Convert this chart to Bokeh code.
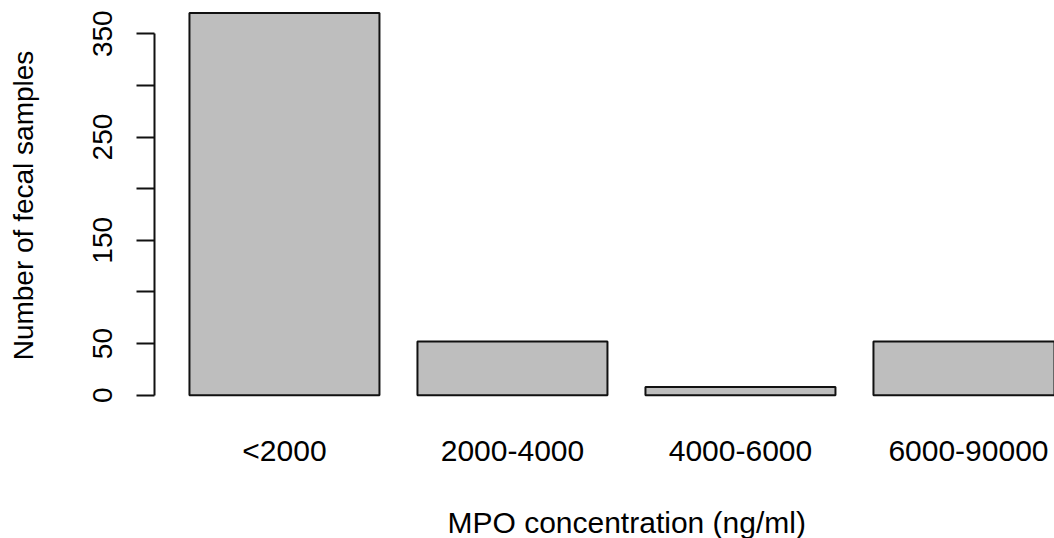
import math
from bokeh.plotting import figure
from bokeh.models import FixedTicker, Range1d, Title
from bokeh.embed import file_html
from bokeh.resources import INLINE

categories = ["<2000", "2000-4000", "4000-6000", "6000-90000"]
counts = [370, 52, 8, 52]
y_ticks = [0, 50, 100, 150, 200, 250, 300, 350]
y_tick_labels = ["0", "50", "", "150", "", "250", "", "350"]
x_title = "MPO concentration (ng/ml)"
y_title = "Number of fecal samples"

FONT = "Liberation Sans"
BAR_W, GAP = 1.0, 0.2
n = len(counts)
lefts = [GAP + i * (BAR_W + GAP) for i in range(n)]
centers = [round(l + BAR_W / 2, 6) for l in lefts]

# R-style limits (4% expansion)
x_min_r, x_max_r = lefts[0], lefts[-1] + BAR_W
x_pad = 0.04 * (x_max_r - x_min_r)
y_pad = 0.04 * max(counts)
x_lo, x_hi_r = x_min_r - x_pad, x_max_r + x_pad
y_lo = -y_pad

W, H = 1054, 538
LEFT, BOTTOM = 154, 125
frame_w, frame_h = W - LEFT, H - BOTTOM
px_per_x = 190.0
px_per_y = 1.0403
x_hi = x_lo + frame_w / px_per_x
y_hi = y_lo + frame_h / px_per_y

p = figure(width=W, height=H, output_backend="svg", toolbar_location=None,
           x_range=Range1d(x_lo, x_hi), y_range=Range1d(y_lo, y_hi),
           min_border_left=LEFT, min_border_right=0, min_border_top=0,
           min_border_bottom=BOTTOM)
p.outline_line_color = None
p.xgrid.visible = False
p.ygrid.visible = False
p.background_fill_color = "white"
p.border_fill_color = "white"

p.vbar(x=centers, top=counts, bottom=0, width=BAR_W,
       fill_color="#BEBEBE", line_color="#111111", line_width=2)

# y axis (R style)
ya = p.yaxis[0]
ya.ticker = FixedTicker(ticks=y_ticks)
ya.major_label_overrides = {t: s for t, s in zip(y_ticks, y_tick_labels)}
ya.bounds = (y_ticks[0], y_ticks[-1])
ya.axis_line_color = "#111111"
ya.axis_line_width = 2
ya.major_tick_line_color = "#111111"
ya.major_tick_line_width = 2
ya.major_tick_out = 18
ya.major_tick_in = 0
ya.minor_tick_line_color = None
ya.major_label_orientation = "vertical"
ya.major_label_standoff = 24
ya.major_label_text_font = FONT
ya.major_label_text_font_size = "28px"
ya.major_label_text_color = "black"
ya.axis_label = y_title
ya.axis_label_standoff = 52
ya.axis_label_text_font = FONT
ya.axis_label_text_font_size = "28px"
ya.axis_label_text_font_style = "normal"
ya.axis_label_text_color = "black"

# x axis: only category names
xa = p.xaxis[0]
xa.ticker = FixedTicker(ticks=centers)
xa.major_label_overrides = {c: s for c, s in zip(centers, categories)}
xa.axis_line_color = None
xa.major_tick_line_color = None
xa.minor_tick_line_color = None
xa.major_tick_out = 0
xa.major_tick_in = 0
xa.major_label_standoff = 23
xa.major_label_text_font = FONT
xa.major_label_text_font_size = "30px"
xa.major_label_text_color = "black"
# invisible spacer so the title below sits where R puts it
xa.axis_label = " "
xa.axis_label_text_font_size = "1px"
xa.axis_label_standoff = 30

# x title, centred on the R plot region
title_center_px = (x_lo + x_hi_r) / 2 - x_lo
title_w = 358
p.add_layout(Title(text=x_title, align="left",
                   offset=title_center_px * px_per_x - title_w / 2,
                   standoff=0, text_font=FONT, text_font_size="30px",
                   text_font_style="normal", text_color="black"), "below")

open("out.html", "w").write(file_html(p, INLINE))
